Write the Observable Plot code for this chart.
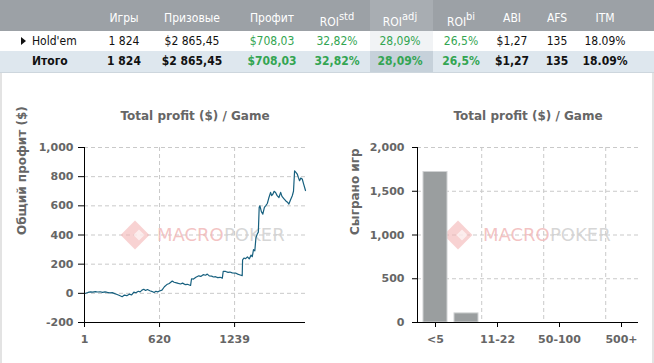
<!DOCTYPE html>
<html><head><meta charset="utf-8">
<script src="https://cdn.jsdelivr.net/npm/d3@7"></script>
<script src="https://cdn.jsdelivr.net/npm/@observablehq/plot@0.6"></script>
<style>
body{margin:0;background:#fff;width:654px;height:363px;overflow:hidden;position:relative;font-family:"DejaVu Sans Condensed","DejaVu Sans",sans-serif;}
.row{position:absolute;left:0;width:654px;}
.hl{position:absolute;top:0;bottom:0;left:370px;width:63px;}
.cell{position:absolute;top:0;transform:translateX(-50%);white-space:nowrap;font-size:12px;color:#111;}
.hdr .cell{color:#fff;}
.cell sup{font-size:11px;position:relative;top:-1px;}
.green{color:#33a552 !important;}
.bold .cell{font-weight:bold;}
#panel{position:absolute;left:0;top:73px;height:290px;border-left:2px solid #e3e3e3;border-right:2px solid #e3e3e3;box-sizing:border-box;width:654px;}
#left,#right{position:absolute;top:80px;}
#left{left:0;} #right{left:327px;}
</style></head><body>
<div id="table"></div>
<div id="panel"></div>
<div id="left"></div><div id="right"></div>
<script>
// ---- table data ----
const tableHeaders = ["Игры","Призовые","Профит","ROI|std","ROI|adj","ROI|bi","ABI","AFS","ITM"];
const rowLabels = ["Hold'em","Итого"];
const holdemRow = ["1 824","$2 865,45","$708,03","32,82%","28,09%","26,5%","$1,27","135","18.09%"];
const totalRow  = ["1 824","$2 865,45","$708,03","32,82%","28,09%","26,5%","$1,27","135","18.09%"];
const greenCols = [2,3,4,5];

// ---- left chart data: cumulative profit by game ----
const leftTitle = "Total profit ($) / Game";
const leftYLabel = "Общий профит ($)";
const games = [1,15,30,50,70,90,110,130,150,170,190,210,230,250,270,290,312,330,350,370,390,408,425,445,460,475,490,505,520,540,560,575,590,605,620,640,660,680,700,725,740,760,775,793,810,830,850,876,884,900,920,944,960,980,1000,1014,1030,1050,1065,1082,1100,1120,1138,1145,1165,1185,1200,1220,1247,1265,1285,1302,1305,1316,1330,1345,1360,1375,1385,1395,1406,1415,1426,1435,1442,1448,1460,1472,1485,1495,1509,1520,1536,1545,1555,1565,1577,1590,1605,1619,1630,1645,1660,1675,1687,1700,1715,1725,1734,1745,1756,1765,1775,1785,1797,1810,1824];
const profit = [0,2,6,10,8,12,9,11,7,10,6,3,5,-2,-8,-15,-23,-12,-16,-6,-10,8,4,14,10,22,28,20,26,18,12,6,14,10,16,22,45,60,68,84,76,72,68,64,70,60,62,54,100,98,110,120,116,128,124,132,120,118,112,114,108,110,104,150,150,144,146,140,139,132,126,121,230,242,238,250,236,262,251,300,292,380,407,420,590,600,560,543,590,600,616,650,692,670,680,700,692,670,657,692,665,650,635,625,612,640,669,700,840,830,818,795,772,790,784,745,705];
const leftYTicks = [-200,0,200,400,600,800,1000];
const leftXTicks = [1,620,1239];

// ---- right chart data ----
const rightYLabel = "Сыграно игр";
const buyinBands = ["<5","5-11","11-22","22-50","50-100","100-500","500+"];
const gamesPlayed = [1720,104,0,0,0,0,0];
const labeledBands = ["<5","11-22","50-100","500+"];
const rightYTicks = [0,500,1000,1500,2000];
const watermark = ["MACRO","POKER"];

// ---- build table ----
const T = document.getElementById("table");
const colX = [124,192,272,337,400,461,512,557,605];
function makeRow(top,h,bg,hlbg,cls,label,vals,lineH){
  const r=document.createElement("div");
  r.className="row "+cls; r.style.top=top+"px"; r.style.height=h+"px"; r.style.background=bg;
  const hl=document.createElement("div"); hl.className="hl"; hl.style.background=hlbg; r.appendChild(hl);
  if(label!=null){
    const c=document.createElement("div"); c.className="cell"; c.style.transform="none"; c.style.left="32px";
    c.style.lineHeight=lineH+"px"; c.textContent=label; r.appendChild(c);
  }
  vals.forEach((v,i)=>{
    const c=document.createElement("div"); c.className="cell"+(cls!=="hdr"&&greenCols.includes(i)?" green":"");
    c.style.left=colX[i]+"px"; c.style.lineHeight=lineH+"px";
    if(v.includes("|")){const [a,b]=v.split("|"); c.innerHTML=a+"<sup>"+b+"</sup>";} else c.textContent=v;
    r.appendChild(c);
  });
  T.appendChild(r); return r;
}
makeRow(0,31,"#9ca1a6","#a8adb2","hdr",null,tableHeaders,36);
const r1=makeRow(31,20,"#ffffff","#f1f3f5","",rowLabels[0],holdemRow,20);
const tri=document.createElement("div"); tri.style.cssText="position:absolute;left:21px;top:6px;width:0;height:0;border-top:4px solid transparent;border-bottom:4px solid transparent;border-left:5px solid #111;"; r1.appendChild(tri);
makeRow(51,21,"#dee7ee","#c6d1da","bold",rowLabels[1],totalRow,21);
const line=document.createElement("div"); line.style.cssText="position:absolute;left:0;top:72px;width:654px;height:1px;background:#cdd6dd;"; T.appendChild(line);

// ---- charts ----
const style = {fontFamily:"DejaVu Sans, sans-serif", fontSize:"11px", fontWeight:"bold", color:"#666", background:"transparent", overflow:"visible"};
const grid = {stroke:"#c9c9c9", strokeOpacity:1, strokeDasharray:"4,3"};
const fmt = d => d.toLocaleString("en-US");
function wm(dxLogo, dxText){
  return [
    Plot.dot([0],{frameAnchor:"middle", dx:dxLogo, symbol:"diamond2", r:13, fill:"#f3b4b4", fillOpacity:0.6}),
    Plot.dot([0],{frameAnchor:"middle", dx:dxLogo+4, symbol:"diamond2", r:5, fill:"#ffffff", fillOpacity:0.6}),
    Plot.text([watermark[0]],{frameAnchor:"middle", dx:dxText, textAnchor:"start", fill:"#f1b9b9", fontSize:18, fontWeight:"normal", fillOpacity:0.85}),
    Plot.text([watermark[1]],{frameAnchor:"middle", dx:dxText+67, textAnchor:"start", fill:"#cfcfcf", fontSize:18, fontWeight:"normal", fillOpacity:0.85})
  ];
}
const lineData = games.map((g,i)=>({game:g, profit:profit[i]}));
const leftPlot = Plot.plot({
  width:327, height:283, marginLeft:84, marginRight:22, marginTop:67, marginBottom:41,
  style,
  x:{domain:[1,1824]},
  y:{domain:[-200,1000]},
  marks:[
    Plot.gridY(leftYTicks.slice(1), grid),
    Plot.gridX(leftXTicks.slice(1), grid),
    ...wm(-60,-38),
    Plot.line(lineData,{x:"game", y:"profit", stroke:"#17607f", strokeWidth:1.2}),
    Plot.ruleY([-200],{stroke:"#000"}),
    Plot.ruleX([1],{stroke:"#000"}),
    Plot.axisY({ticks:leftYTicks, tickSize:6, tickPadding:5, tickFormat:fmt, label:null, stroke:"#000", fill:"#666"}),
    Plot.axisX({ticks:leftXTicks, tickSize:5, tickPadding:8, tickFormat:d=>String(d), label:null, stroke:"#000", fill:"#666"}),
    Plot.text([leftTitle],{frameAnchor:"top", dy:-36, fontSize:12, fill:"#666"}),
    Plot.text([leftYLabel],{frameAnchor:"left", dx:-62, rotate:-90, fontSize:12, fill:"#666"})
  ]
});
document.getElementById("left").appendChild(leftPlot);

const barData = buyinBands.map((b,i)=>({band:b, games:gamesPlayed[i]}));
const frameW = 327-90-16;
const step = frameW/buyinBands.length;
const rightPlot = Plot.plot({
  width:327, height:283, marginLeft:90, marginRight:16, marginTop:67, marginBottom:41,
  style,
  x:{type:"band", domain:buyinBands, paddingInner:0.23, paddingOuter:0.115},
  y:{domain:[0,2000]},
  marks:[
    Plot.gridY(rightYTicks.slice(1), grid),
    Plot.ruleX(["11-22","50-100","500+"],{dx:-step/2, ...grid}),
    ...wm(-70,-45),
    Plot.barY(barData.filter(d=>d.games>0),{x:"band", y:"games", fill:"#9a9e9f", stroke:"#d0d2d3", strokeWidth:1}),
    Plot.ruleY([0],{stroke:"#000"}),
    Plot.frame({anchor:"left", stroke:"#000"}),
    Plot.axisY({ticks:rightYTicks, tickSize:5, tickPadding:8, tickFormat:fmt, label:null, stroke:"#000", fill:"#666"}),
    Plot.axisX({ticks:labeledBands, tickSize:5, tickPadding:8, label:null, stroke:"#000", fill:"#666"}),
    Plot.text([leftTitle],{frameAnchor:"top", dy:-36, fontSize:12, fill:"#666"}),
    Plot.text([rightYLabel],{frameAnchor:"left", dx:-62, rotate:-90, fontSize:12, fill:"#666"})
  ]
});
document.getElementById("right").appendChild(rightPlot);
</script>
</body></html>
